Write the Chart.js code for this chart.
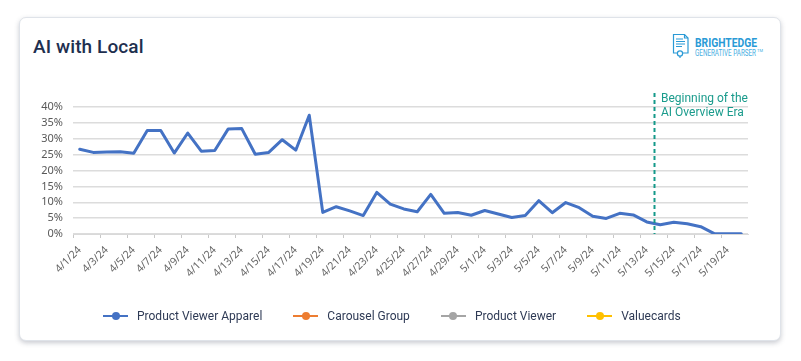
<!DOCTYPE html>
<html>
<head>
<meta charset="utf-8">
<script src="https://cdn.jsdelivr.net/npm/chart.js@4.4.1/dist/chart.umd.min.js"></script>
<style>
  html, body { margin: 0; padding: 0; background: #ffffff; }
  #wrap { position: relative; width: 801px; height: 361px; overflow: hidden; background: #fff; }
  #card { position: absolute; left: 19px; top: 17px; width: 762px; height: 324px; background: #fff;
          border: 1px solid #dfe3e9; border-radius: 7px; box-shadow: 0 2px 5px rgba(60,70,90,0.28); box-sizing: border-box; }
  #title { position: absolute; left: 33px; top: 35px; font-family: Roboto, sans-serif; font-weight: 500;
           font-size: 19px; color: #1e2f4f; letter-spacing: 0.1px; }
  #chart { position: absolute; left: 0; top: 0; }
  #logo { position: absolute; left: 672px; top: 33px; width: 100px; height: 26px; }
  #legend { position: absolute; left: 103px; top: 307px; height: 18px; display: flex; align-items: center;
            font-family: Roboto, sans-serif; font-size: 12px; color: #2e3a55; white-space: nowrap; }
  .li { display: flex; align-items: center; margin-right: 31px; }
  .mk { position: relative; width: 25px; height: 10px; margin-right: 9px; }
  .mk .ln { position: absolute; left: 0; top: 4px; width: 25px; height: 2px; }
  .mk .dt { position: absolute; left: 8.5px; top: 1px; width: 8px; height: 8px; border-radius: 50%; }
</style>
</head>
<body>
<div id="wrap">
  <div id="card"></div>
  <div id="title">AI with Local</div>
  <svg id="logo" width="100" height="26" viewBox="0 0 100 26">
    <g fill="none" stroke="#2a9ad6" stroke-width="1.2">
      <path d="M1.5 1.5 H12.5 L16 5 V20 H1.5 Z"/>
      <path d="M12.5 1.5 V5 H16"/>
      <path d="M4 6 H11 M4 8.5 H13 M4 11 H13 M4 13.5 H10"/>
      <circle cx="8" cy="20.5" r="2.6" fill="#fff"/>
      <path d="M8 23 V25"/>
    </g>
    <text x="23" y="13.5" font-family="Roboto, sans-serif" font-weight="700" font-size="12.2" fill="#2a9ad6"
          textLength="62" lengthAdjust="spacingAndGlyphs">BRIGHTEDGE</text>
    <text x="23" y="23" font-family="Roboto, sans-serif" font-weight="400" font-size="8.6" fill="#45aee2"
          textLength="61" lengthAdjust="spacingAndGlyphs">GENERATIVE PARSER</text>
    <text x="85" y="18.5" font-family="Roboto, sans-serif" font-size="4" fill="#45aee2">TM</text>
  </svg>
  <canvas id="chart" width="801" height="361"></canvas>
  <div id="legend"></div>
</div>
<script>
const categories = [
  '4/1/24','4/2/24','4/3/24','4/4/24','4/5/24','4/6/24','4/7/24','4/8/24','4/9/24','4/10/24',
  '4/11/24','4/12/24','4/13/24','4/14/24','4/15/24','4/16/24','4/17/24','4/18/24','4/19/24','4/20/24',
  '4/21/24','4/22/24','4/23/24','4/24/24','4/25/24','4/26/24','4/27/24','4/28/24','4/29/24','4/30/24',
  '5/1/24','5/2/24','5/3/24','5/4/24','5/5/24','5/6/24','5/7/24','5/8/24','5/9/24','5/10/24',
  '5/11/24','5/12/24','5/13/24','5/14/24','5/15/24','5/16/24','5/17/24','5/18/24','5/19/24','5/20/24'
];
// values in percent
const productViewerApparel = [
  26.7, 25.7, 25.8, 25.9, 25.4, 32.6, 32.6, 25.5, 31.8, 26.1,
  26.3, 33.1, 33.2, 25.1, 25.7, 29.7, 26.4, 37.4, 6.8, 8.6,
  7.3, 5.8, 13.1, 9.4, 7.9, 7.0, 12.5, 6.5, 6.8, 5.9,
  7.4, 6.3, 5.2, 5.8, 10.5, 6.7, 9.9, 8.3, 5.6, 4.9,
  6.5, 6.0, 3.8, 2.9, 3.7, 3.2, 2.3, 0.1, 0.1, 0.1
];
const carouselGroup = [];
const productViewer = [];
const valuecards = [];
const yTicks = [0, 5, 10, 15, 20, 25, 30, 35, 40];
const seriesNames = ['Product Viewer Apparel', 'Carousel Group', 'Product Viewer', 'Valuecards'];
const seriesColors = ['#4472c4', '#ed7d31', '#a5a5a5', '#ffc000'];
const aiEraStart = '5/14/24';
const aiEraText = ['Beginning of the', 'AI Overview Era'];

const eraPlugin = {
  id: 'era',
  afterDatasetsDraw(chart) {
    const xs = chart.scales.x, ys = chart.scales.y, ctx = chart.ctx;
    const x = Math.round(xs.getPixelForValue(categories.indexOf(aiEraStart) - 0.5)) + 0.5;
    ctx.save();
    ctx.strokeStyle = '#14998a';
    ctx.lineWidth = 2;
    ctx.setLineDash([4, 3]);
    ctx.beginPath();
    ctx.moveTo(x, chart.chartArea.top - 14);
    ctx.lineTo(x, ys.getPixelForValue(0));
    ctx.stroke();
    ctx.setLineDash([]);
    ctx.fillStyle = '#1a9b8c';
    ctx.font = '12px Roboto, sans-serif';
    ctx.textBaseline = 'alphabetic';
    ctx.textAlign = 'left';
    ctx.fillText(aiEraText[0], x + 6.5, 102);
    ctx.fillText(aiEraText[1], x + 6.5, 115.5);
    ctx.restore();
  }
};

const chart = new Chart(document.getElementById('chart'), {
  type: 'line',
  data: {
    labels: categories,
    datasets: [productViewerApparel, carouselGroup, productViewer, valuecards].map((d, i) => ({
      label: seriesNames[i],
      data: d,
      borderColor: seriesColors[i],
      backgroundColor: seriesColors[i],
      borderWidth: 3,
      pointRadius: 0,
      tension: 0,
      borderJoinStyle: 'round',
      borderCapStyle: 'round'
    }))
  },
  options: {
    responsive: false,
    animation: false,
    layout: { padding: { top: 107, left: 0, right: 53, bottom: 67 } },
    plugins: { legend: { display: false }, tooltip: { enabled: false } },
    scales: {
      x: {
        offset: true,
        afterFit(s) { s.height = 60; },
        grid: {
          offset: true,
          drawOnChartArea: false,
          drawTicks: true,
          tickLength: 4,
          lineWidth: 1,
          color: c => (c.index % 2 === 0 ? '#c8c8c8' : 'rgba(0,0,0,0)')
        },
        border: { display: true, color: '#d9d9d9', width: 1 },
        ticks: {
          autoSkip: false,
          maxRotation: 45,
          minRotation: 45,
          padding: 6,
          color: '#666666',
          font: { family: 'Noto Sans', size: 10.5 },
          callback(v, i) { return i % 2 === 0 ? categories[i] : ''; }
        }
      },
      y: {
        min: yTicks[0],
        max: yTicks[yTicks.length - 1],
        afterFit(s) { s.width = 73; },
        afterBuildTicks(s) { s.ticks = yTicks.map(v => ({ value: v })); },
        grid: { color: '#dcdcdc', lineWidth: 1.5, drawTicks: false },
        border: { display: false },
        ticks: {
          autoSkip: false,
          padding: 10,
          color: '#595959',
          font: { family: 'Noto Sans', size: 11 },
          callback: v => v + '%'
        }
      }
    }
  },
  plugins: [eraPlugin]
});

const legend = document.getElementById('legend');
chart.data.datasets.forEach(ds => {
  const item = document.createElement('div');
  item.className = 'li';
  item.innerHTML = '<div class="mk"><div class="ln" style="background:' + ds.borderColor +
    '"></div><div class="dt" style="background:' + ds.borderColor + '"></div></div><span>' + ds.label + '</span>';
  legend.appendChild(item);
});
</script>
</body>
</html>
